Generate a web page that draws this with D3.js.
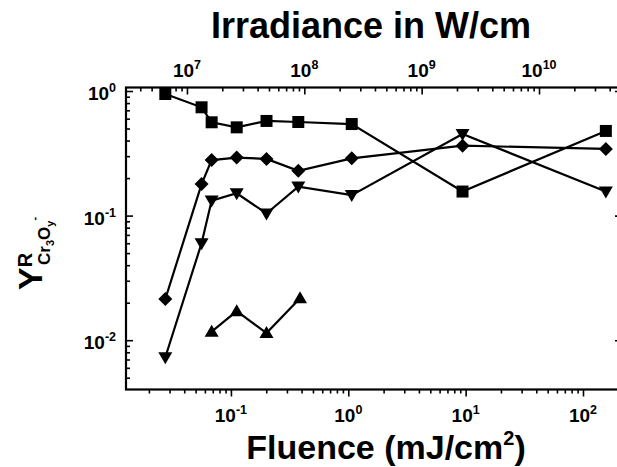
<!DOCTYPE html>
<html>
<head>
<meta charset="utf-8">
<script src="https://cdn.jsdelivr.net/npm/d3@7"></script>
<style>
  body { margin: 0; background: #fff; }
  text { font-family: "Liberation Sans", Arial, sans-serif; font-weight: bold; fill: #000; }
</style>
</head>
<body>
<script>
// values
const fluence = [0.0276, 0.0562, 0.0685, 0.112, 0.201, 0.375, 1.07, 9.41, 156.6];
const squareY = [0.946, 0.740, 0.561, 0.511, 0.575, 0.564, 0.543, 0.156, 0.478];
const diamondY = [0.0214, 0.179, 0.279, 0.292, 0.285, 0.229, 0.288, 0.364, 0.343];
const triDownY = [0.0073, 0.060, 0.132, 0.151, 0.104, 0.171, 0.146, 0.452, 0.156];
const triUpX = [0.0685, 0.112, 0.201, 0.388];
const triUpY = [0.0117, 0.0171, 0.0114, 0.0217];

const bottomExps = [-1, 0, 1, 2];
const topExps = [7, 8, 9, 10];
const leftExps = [0, -1, -2];

const irrPerFluence = 2.37e8;

const w = 617, h = 467;
const plotL = 126, plotR = 622, plotT = 87.5, plotB = 389.5;

const svg = d3.select("body").append("svg")
  .attr("width", w)
  .attr("height", h);

const x = d3.scaleLog().domain([0.01276, 215]).range([plotL, plotR]);
const xTop = d3.scaleLog()
  .domain(x.domain().map(v => v * irrPerFluence))
  .range([plotL, plotR]);
const y = d3.scaleLog().domain([0.00402, 1.067]).range([plotB, plotT]);

const isMajor = d => Math.abs(Math.log10(d) - Math.round(Math.log10(d))) < 1e-6;

// ticks: bottom outward, the rest inward
const logAxis = (axis, tr, attr, major, minor) => {
  const g = svg.append("g").attr("transform", tr)
    .call(axis.tickFormat("").tickSizeOuter(0));
  g.select(".domain").remove();
  g.selectAll(".tick line")
    .attr(attr, d => isMajor(d) ? major : minor)
    .attr("stroke", "#000")
    .attr("stroke-width", 1.6);
  return g;
};

logAxis(d3.axisBottom(x), `translate(0,${plotB})`, "y2", 7, 4);
logAxis(d3.axisTop(xTop), `translate(0,${plotT})`, "y2", 7, 4);
logAxis(d3.axisLeft(y), `translate(${plotL},0)`, "x2", 7, 4);
logAxis(d3.axisRight(y), `translate(${plotR},0)`, "x2", -7, -4);

svg.append("rect")
  .attr("x", plotL).attr("y", plotT)
  .attr("width", plotR - plotL).attr("height", plotB - plotT)
  .attr("fill", "none").attr("stroke", "#000").attr("stroke-width", 2.2);

const powerLabel = (xPos, yPos, exp, anchor) => {
  const t = svg.append("text")
    .attr("x", xPos).attr("y", yPos)
    .attr("text-anchor", anchor)
    .style("font-size", "19px")
    .text("10");
  t.append("tspan").attr("dy", -8).style("font-size", "12.5px").text(exp);
};

bottomExps.forEach(e => powerLabel(x(Math.pow(10, e)), 422, e, "middle"));
topExps.forEach(e => powerLabel(xTop(Math.pow(10, e)), 77, e, "middle"));
leftExps.forEach(e => powerLabel(116, y(Math.pow(10, e)) + 9, e, "end"));

// axis titles
const xTitle = svg.append("text")
  .attr("x", 386).attr("y", 459)
  .attr("text-anchor", "middle")
  .style("font-size", "34px")
  .text("Fluence (mJ/cm");
xTitle.append("tspan").attr("dy", -14).style("font-size", "20px").text("2");
xTitle.append("tspan").attr("dy", 14).text(")");

svg.append("text")
  .attr("x", 371).attr("y", 38)
  .attr("text-anchor", "middle")
  .style("font-size", "36px")
  .text("Irradiance in W/cm");

const yTitle = svg.append("g").attr("transform", "translate(42,290) rotate(-90)");
const yMain = yTitle.append("text").attr("x", 0).attr("y", 0).style("font-size", "34px").text("Y");
yMain.append("tspan").attr("dy", -10).style("font-size", "20px").text("R");
const ySub = yTitle.append("text").attr("x", 25).attr("y", 8).style("font-size", "17px").text("Cr");
ySub.append("tspan").attr("dy", 4).style("font-size", "11px").text("3");
ySub.append("tspan").attr("dy", -4).text("O");
ySub.append("tspan").attr("dy", 4).style("font-size", "11px").text("y");
ySub.append("tspan").attr("dy", -16).style("font-size", "11px").text("-");

// marker shapes
const shapes = {
  square: "M-6,-6H6V6H-6Z",
  diamond: "M0,-7L7,0L0,7L-7,0Z",
  down: "M-7,-5H7L0,7Z",
  up: "M-7,5H7L0,-7Z"
};

const series = [
  { xs: fluence, ys: squareY, shape: "square" },
  { xs: fluence, ys: diamondY, shape: "diamond" },
  { xs: fluence, ys: triDownY, shape: "down" },
  { xs: triUpX, ys: triUpY, shape: "up" }
];

const line = d3.line().x(d => x(d[0])).y(d => y(d[1]));

series.forEach(s => {
  const pts = s.xs.map((v, i) => [v, s.ys[i]]);
  svg.append("path")
    .attr("d", line(pts))
    .attr("fill", "none")
    .attr("stroke", "#000")
    .attr("stroke-width", 2.2);
  svg.selectAll(null)
    .data(pts)
    .enter()
    .append("path")
    .attr("d", shapes[s.shape])
    .attr("transform", d => `translate(${x(d[0])},${y(d[1])})`)
    .attr("fill", "#000");
});
</script>
</body>
</html>
